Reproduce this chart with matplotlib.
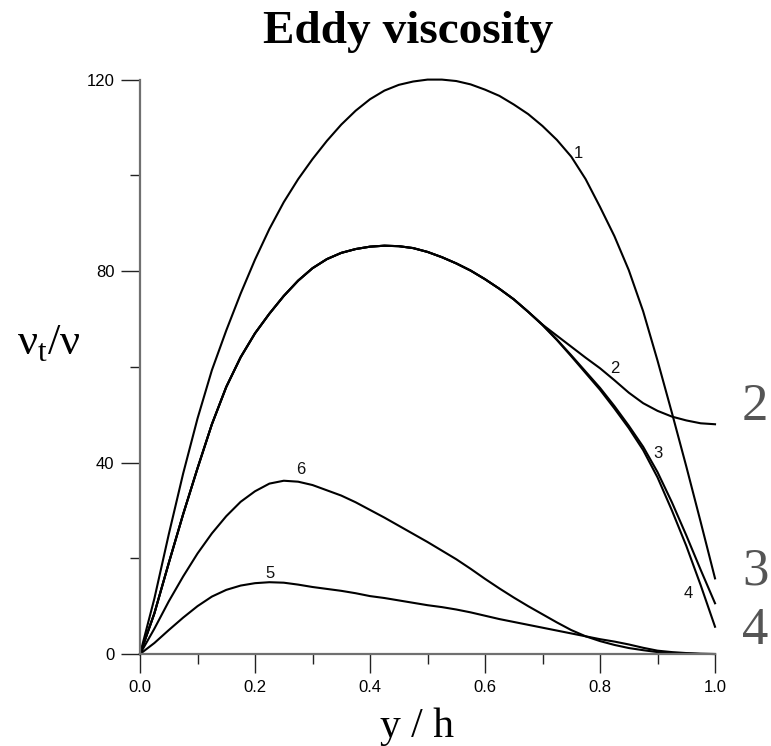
import matplotlib
matplotlib.use("Agg")
import matplotlib.pyplot as plt
from matplotlib.ticker import MultipleLocator

yh = [i / 40 for i in range(41)]

nu1 = [0, 11.6, 25.0, 37.7, 49.2, 59.3, 67.6, 75.3, 82.4, 88.8, 94.4, 99.2,
       103.4, 107.2, 110.6, 113.5, 115.9, 117.7, 118.9, 119.6, 120.0, 120.0,
       119.7, 119.0, 117.9, 116.6, 114.8, 112.8, 110.3, 107.4, 103.9, 99.2,
       93.4, 87.3, 80.2, 71.6, 61.3, 50.4, 39.2, 27.6, 15.8]
nu2 = [0, 8.5, 19.0, 29.2, 38.8, 48.0, 55.8, 62.0, 67.0, 71.1, 74.8, 78.0,
       80.6, 82.5, 83.8, 84.6, 85.1, 85.3, 85.2, 84.8, 84.0, 82.9, 81.6, 80.1,
       78.3, 76.3, 74.1, 71.5, 68.8, 66.5, 64.2, 61.9, 59.7, 57.2, 54.6, 52.4,
       50.8, 49.6, 48.8, 48.2, 48.0]
nu3 = [0, 8.5, 19.0, 29.2, 38.8, 48.0, 55.8, 62.0, 67.0, 71.1, 74.8, 78.0,
       80.6, 82.5, 83.8, 84.6, 85.1, 85.3, 85.2, 84.8, 84.0, 82.9, 81.6, 80.1,
       78.3, 76.3, 74.1, 71.5, 68.8, 65.7, 62.4, 59.0, 55.6, 51.8, 47.7, 43.3,
       38.0, 31.7, 24.8, 17.6, 10.6]
nu4 = [0, 8.5, 19.0, 29.2, 38.8, 48.0, 55.8, 62.0, 67.0, 71.1, 74.8, 78.0,
       80.6, 82.5, 83.8, 84.6, 85.1, 85.3, 85.2, 84.8, 84.0, 82.9, 81.6, 80.1,
       78.3, 76.3, 74.1, 71.5, 68.7, 65.6, 62.2, 58.7, 55.2, 51.3, 47.2, 42.6,
       36.9, 30.0, 22.6, 14.4, 5.7]
nu5 = [0, 2.3, 5.0, 7.6, 10.0, 12.0, 13.4, 14.3, 14.8, 15.0, 14.9, 14.5,
       14.0, 13.6, 13.2, 12.7, 12.1, 11.7, 11.2, 10.7, 10.2, 9.8, 9.3, 8.7,
       8.0, 7.3, 6.7, 6.1, 5.5, 4.9, 4.3, 3.7, 3.1, 2.6, 2.0, 1.3, 0.7, 0.4,
       0.2, 0.05, 0]
nu6 = [0, 5.3, 11.0, 16.2, 21.0, 25.2, 28.8, 31.8, 34.0, 35.6, 36.2, 36.0,
       35.3, 34.2, 33.1, 31.7, 30.1, 28.5, 26.8, 25.1, 23.4, 21.6, 19.8, 17.8,
       15.7, 13.7, 11.8, 10.0, 8.3, 6.6, 5.0, 3.7, 2.7, 1.9, 1.25, 0.8, 0.4,
       0.2, 0.1, 0.03, 0]

curves = [nu1, nu2, nu3, nu4, nu5, nu6]
# curve number labels: text, x, y (data units)
labels = [("1", 0.762, 104.5), ("2", 0.826, 59.7), ("3", 0.901, 41.8),
          ("4", 0.953, 12.7), ("5", 0.226, 16.9), ("6", 0.280, 38.6)]
side_labels = ["2", "3", "4"]
side_y = [51.5, 17.3, 4.8]

fig = plt.figure(figsize=(7.71, 7.46), dpi=100)
ax = fig.add_axes([0.1816, 0.1233, 0.7458, 0.7700])

for c in curves:
    ax.plot(yh, c, color="black", lw=1.5, clip_on=False, solid_joinstyle="round")

for t, x, y in labels:
    ax.text(x, y, t, fontsize=12, family="Liberation Sans", ha="center",
            va="center", color="#111111")

for t, y in zip(side_labels, side_y):
    ax.text(1.07, y, t, fontsize=38, family="Liberation Serif", ha="center",
            va="center", color="#555555", clip_on=False)

ax.set_xlim(0, 1)
ax.set_ylim(0, 120)
for s in ["top", "right"]:
    ax.spines[s].set_visible(False)
for s in ["left", "bottom"]:
    ax.spines[s].set_color("#707070")
    ax.spines[s].set_linewidth(1.6)

ax.xaxis.set_major_locator(MultipleLocator(0.2))
ax.xaxis.set_minor_locator(MultipleLocator(0.1))
ax.yaxis.set_major_locator(MultipleLocator(40))
ax.yaxis.set_minor_locator(MultipleLocator(20))
ax.set_xticklabels([f"{v:.1f}" for v in ax.get_xticks()])
ax.tick_params(which="major", direction="out", length=13.5, width=1.0,
               color="#222222", labelsize=12, pad=5)
ax.tick_params(which="minor", direction="out", length=7, width=1.0,
               color="#222222")
for lab in ax.get_xticklabels() + ax.get_yticklabels():
    lab.set_family("Liberation Sans")

fig.text(0.529, 1 - 43 / 746, "Eddy viscosity", fontsize=34, fontweight="bold",
         family="Liberation Serif", ha="center", va="baseline")
fig.text(0.541, 1 - 737 / 746, "y / h", fontsize=30, family="Liberation Serif",
         ha="center", va="baseline")
fig.text(0.063, 1 - 355 / 746, "ν$_\\mathregular{t}$/ν", fontsize=32,
         family="Liberation Serif", ha="center", va="baseline")

fig.savefig("out.png", dpi=100)
